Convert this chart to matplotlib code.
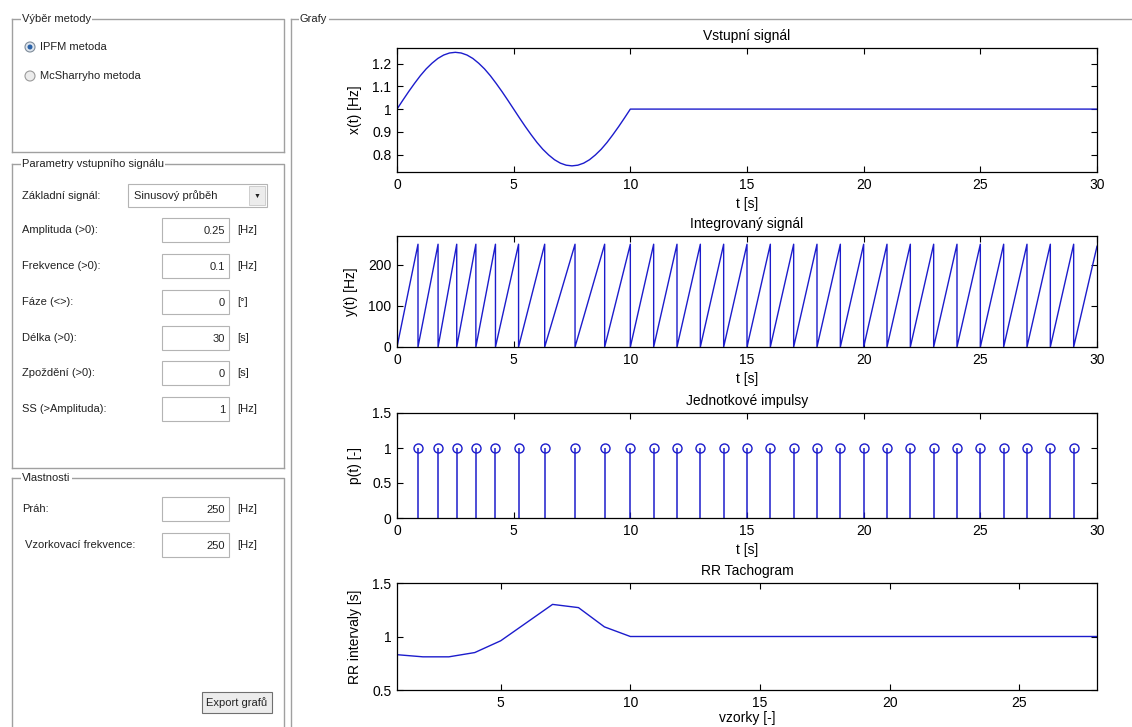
import numpy as np
import matplotlib
matplotlib.use("Agg")
import matplotlib.pyplot as plt
from matplotlib.patches import Rectangle, Circle

plt.rcParams['font.family'] = ['Liberation Sans', 'DejaVu Sans']

W, H = 1132, 727

# --- data ---
# input signal x(t) [Hz], read every 0.25 s up to 10 s, then constant
t_in = [0, 0.25, 0.5, 0.75, 1, 1.25, 1.5, 1.75, 2, 2.25, 2.5, 2.75, 3,
        3.25, 3.5, 3.75, 4, 4.25, 4.5, 4.75, 5, 5.25, 5.5, 5.75, 6, 6.25,
        6.5, 6.75, 7, 7.25, 7.5, 7.75, 8, 8.25, 8.5, 8.75, 9, 9.25, 9.5,
        9.75, 10, 30]
x_in = [1.0, 1.039, 1.077, 1.113, 1.147, 1.177, 1.202, 1.223, 1.238, 1.247,
        1.25, 1.247, 1.238, 1.223, 1.202, 1.177, 1.147, 1.113, 1.077, 1.039,
        1.0, 0.961, 0.923, 0.887, 0.853, 0.823, 0.798, 0.777, 0.762, 0.753,
        0.75, 0.753, 0.762, 0.777, 0.798, 0.823, 0.853, 0.887, 0.923, 0.961,
        1.0, 1.0]

# pulse times [s]
t_pulse = [0.9, 1.76, 2.56, 3.38, 4.22, 5.21, 6.33, 7.63, 8.9, 10, 11, 12,
           13, 14, 15, 16, 17, 18, 19, 20, 21, 22, 23, 24, 25, 26, 27, 28, 29]
threshold = 250
y_end = 245  # integrator value at t = 30 s

# RR tachogram [s]
rr = [0.83, 0.81, 0.81, 0.85, 0.96, 1.13, 1.30, 1.27, 1.09, 1.0, 1.0, 1.0,
      1.0, 1.0, 1.0, 1.0, 1.0, 1.0, 1.0, 1.0, 1.0, 1.0, 1.0, 1.0, 1.0, 1.0,
      1.0, 1.0]

# GUI fields
params = [("Amplituda (>0):", "0.25", "[Hz]"),
          ("Frekvence (>0):", "0.1", "[Hz]"),
          ("Fáze (<>):", "0", "[°]"),
          ("Délka (>0):", "30", "[s]"),
          ("Zpoždění (>0):", "0", "[s]"),
          ("SS (>Amplituda):", "1", "[Hz]")]
props = [("Práh:", "250", "[Hz]"),
         ("Vzorkovací frekvence:", "250", "[Hz]")]

LINE = '#1c1ccc'
GRAY = '#a0a0a0'
TXT = '#222222'
GFS = 8

fig = plt.figure(figsize=(W / 100, H / 100), dpi=100)
fig.patch.set_facecolor('white')

# overlay in pixel coordinates for the GUI chrome
gui = fig.add_axes([0, 0, 1, 1], zorder=0)
gui.set_xlim(0, W)
gui.set_ylim(H, 0)
gui.axis('off')


def panel(l, t, r, b, title, tx):
    gui.plot([l, r, r], [t, t, b], color=GRAY, lw=1)
    gui.plot([l, l], [t, b], color=GRAY, lw=1)
    if b < H:
        gui.plot([l, r], [b, b], color=GRAY, lw=1)
    gui.text(tx, t, title, fontsize=GFS, color=TXT, va='center', ha='left',
             bbox=dict(facecolor='white', edgecolor='none', pad=1))


def editbox(l, t, r, b, val):
    gui.add_patch(Rectangle((l, t), r - l, b - t, facecolor='white',
                            edgecolor='#b4b4b4', lw=0.8))
    gui.text(r - 4, (t + b) / 2 + 1, val, fontsize=GFS, color=TXT,
             ha='right', va='center')


panel(12, 19, 284, 152, "Výběr metody", 22)
panel(12, 164, 284, 468, "Parametry vstupního signálu", 22)
panel(12, 478, 284, H + 5, "Vlastnosti", 22)

# Grafy panel
gui.plot([291, 291], [19, H], color=GRAY, lw=1)
gui.plot([291, W], [19, 19], color=GRAY, lw=1)
gui.text(300, 19, "Grafy", fontsize=GFS, color=TXT, va='center',
         bbox=dict(facecolor='white', edgecolor='none', pad=1))

# radio buttons
gui.add_patch(Circle((30, 47), 5, facecolor='#dfe6ee', edgecolor='#7f8c99', lw=0.8))
gui.add_patch(Circle((30, 47), 2.5, facecolor='#2a62a8', edgecolor='none'))
gui.text(40, 47, "IPFM metoda", fontsize=GFS, color=TXT, va='center')
gui.add_patch(Circle((30, 76), 5, facecolor='#ececec', edgecolor='#9a9a9a', lw=0.8))
gui.text(40, 76, "McSharryho metoda", fontsize=GFS, color=TXT, va='center')

# dropdown
gui.text(22, 196, "Základní signál:", fontsize=GFS, color=TXT, va='center')
gui.add_patch(Rectangle((128, 184), 139, 23, facecolor='white',
                        edgecolor='#b4b4b4', lw=0.8))
gui.add_patch(Rectangle((249, 186), 16, 19, facecolor='#ececec',
                        edgecolor='#c8c8c8', lw=0.6))
gui.text(134, 196, "Sinusový průběh", fontsize=GFS, color=TXT, va='center')
gui.text(257, 196, "▼", fontsize=5, color='#202020', ha='center', va='center')

# parameter rows
row_y = [230, 266, 302, 338, 373, 409]
for (lab, val, unit), yc in zip(params, row_y):
    gui.text(22, yc, lab, fontsize=GFS, color=TXT, va='center')
    editbox(162, yc - 12, 229, yc + 12, val)
    gui.text(237, yc, unit, fontsize=GFS, color=TXT, va='center')

prop_y = [509, 545]
prop_x = [22, 25]
for (lab, val, unit), yc, lx in zip(props, prop_y, prop_x):
    gui.text(lx, yc, lab, fontsize=GFS, color=TXT, va='center')
    editbox(162, yc - 12, 229, yc + 12, val)
    gui.text(237, yc, unit, fontsize=GFS, color=TXT, va='center')

# export button
gui.add_patch(Rectangle((202, 692), 70, 21, facecolor='#ececec',
                        edgecolor='#707070', lw=0.8))
gui.text(237, 703, "Export grafů", fontsize=GFS, color=TXT, ha='center',
         va='center')


def px_rect(l, t, r, b):
    return [l / W, 1 - b / H, (r - l) / W, (b - t) / H]


def style(ax, title, xlabel, ylabel, xpad=4):
    ax.set_title(title, fontsize=10, pad=6)
    ax.set_xlabel(xlabel, fontsize=10, labelpad=xpad)
    ax.set_ylabel(ylabel, fontsize=10, labelpad=7)
    ax.tick_params(direction='in', top=True, right=True, labelsize=10,
                   length=4, width=0.8, pad=4)
    for s in ax.spines.values():
        s.set_linewidth(0.9)


# 1) input signal
ax1 = fig.add_axes(px_rect(397, 48, 1097, 172), zorder=2)
ax1.plot(t_in, x_in, color=LINE, lw=1)
ax1.set_xlim(0, 30)
ax1.set_ylim(0.723, 1.269)
ax1.set_yticks([0.8, 0.9, 1.0, 1.1, 1.2])
ax1.set_yticklabels(['0.8', '0.9', '1', '1.1', '1.2'])
style(ax1, "Vstupní signál", "t [s]", "x(t) [Hz]")

# 2) integrated signal (sawtooth between pulses)
ts, ys = [0], [0]
for tp in t_pulse:
    ts += [tp, tp]
    ys += [threshold, 0]
ts.append(30)
ys.append(y_end)
ax2 = fig.add_axes(px_rect(397, 236, 1097, 347), zorder=2)
ax2.plot(ts, ys, color=LINE, lw=1)
ax2.set_xlim(0, 30)
ax2.set_ylim(0, 270)
ax2.set_yticks([0, 100, 200])
style(ax2, "Integrovaný signál", "t [s]", "y(t) [Hz]")

# 3) unit impulses
ax3 = fig.add_axes(px_rect(397, 413, 1097, 518), zorder=2)
ml, sl, bl = ax3.stem(t_pulse, np.ones(len(t_pulse)), basefmt=' ')
plt.setp(sl, color=LINE, lw=1.1)
plt.setp(ml, color=LINE, markerfacecolor='none', markersize=6.5, mew=1)
ax3.set_xlim(0, 30)
ax3.set_ylim(0, 1.5)
ax3.set_yticks([0, 0.5, 1, 1.5])
ax3.set_yticklabels(['0', '0.5', '1', '1.5'])
style(ax3, "Jednotkové impulsy", "t [s]", "p(t) [-]")

# 4) RR tachogram
n = np.arange(1, len(rr) + 1)
ax4 = fig.add_axes(px_rect(397, 583, 1097, 690), zorder=2)
ax4.plot(n, rr, color=LINE, lw=1)
ax4.set_xlim(1, len(rr))
ax4.set_ylim(0.5, 1.5)
ax4.set_xticks([5, 10, 15, 20, 25])
ax4.set_yticks([0.5, 1, 1.5])
ax4.set_yticklabels(['0.5', '1', '1.5'])
style(ax4, "RR Tachogram", "vzorky [-]", "RR intervaly [s]", xpad=1)

for ax in (ax1, ax2, ax3):
    ax.set_xticks([0, 5, 10, 15, 20, 25, 30])

fig.savefig("out.png", dpi=100, facecolor='white')
